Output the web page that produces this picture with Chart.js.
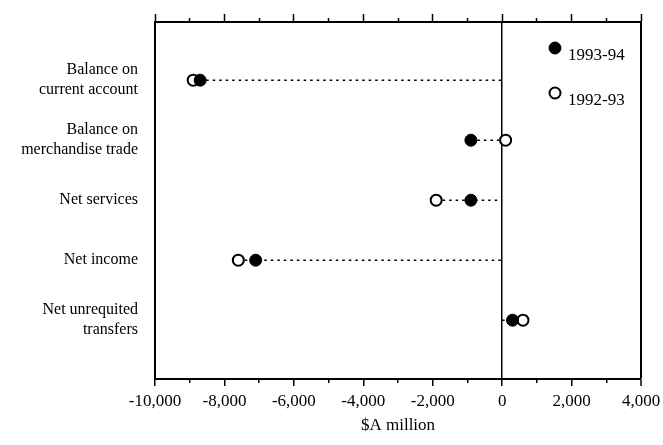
<!DOCTYPE html>
<html>
<head>
<meta charset="utf-8">
<script src="https://cdn.jsdelivr.net/npm/chart.js@4.4.1/dist/chart.umd.min.js"></script>
<style>
  html, body { margin: 0; padding: 0; background: #fff; }
</style>
</head>
<body>
<canvas id="myChart" width="663" height="445"></canvas>
<script>
// Datos ($A millones)
const categories = [
  ['Balance on', 'current account'],
  ['Balance on', 'merchandise trade'],
  ['Net services'],
  ['Net income'],
  ['Net unrequited', 'transfers']
];
const seriesLabels = ['1993-94', '1992-93'];
const values9394 = [-8700, -900, -900, -7100, 300];
const values9293 = [-8900, 100, -1900, -7600, 600];
const xTickValues = [-10000, -9000, -8000, -7000, -6000, -5000, -4000, -3000, -2000, -1000, 0, 1000, 2000, 3000, 4000];

const X_MIN = xTickValues[0];
const X_MAX = xTickValues[xTickValues.length - 1];
const isMajor = v => v % 2000 === 0;

Chart.defaults.font.family = '"Liberation Serif", "Times New Roman", serif';
Chart.defaults.color = '#000';

// Líneas punteadas: desde el punto más lejano hasta cero
const guideLines = categories.map((c, i) => {
  const vals = [values9394[i], values9293[i], 0];
  return {
    type: 'scatter',
    showLine: true,
    data: [{ x: Math.min(...vals), y: i }, { x: Math.max(...vals), y: i }],
    borderColor: '#000',
    borderWidth: 1.6,
    borderDash: [2.5, 4],
    pointRadius: 0,
    order: 2
  };
});

// Leyenda dibujada dentro del área del gráfico
const legendMarks = {
  id: 'legendMarks',
  afterDraw(chart) {
    const { ctx, chartArea } = chart;
    ctx.save();
    [0, 1].forEach(k => {
      const ds = chart.data.datasets[k];
      const cx = chartArea.right - 86;
      const cy = chartArea.top + 26 + k * 45;
      ctx.beginPath();
      ctx.arc(cx, cy, ds.pointRadius, 0, Math.PI * 2);
      ctx.fillStyle = ds.pointBackgroundColor;
      ctx.fill();
      ctx.lineWidth = ds.borderWidth;
      ctx.strokeStyle = ds.borderColor;
      ctx.stroke();
      ctx.fillStyle = '#000';
      ctx.font = '17px "Liberation Serif", serif';
      ctx.textBaseline = 'middle';
      ctx.textAlign = 'left';
      ctx.fillText(ds.label, cx + 13, cy + 8);
    });
    ctx.restore();
  }
};

const ctx = document.getElementById('myChart').getContext('2d');
const chart = new Chart(ctx, {
  type: 'scatter',
  data: {
    datasets: [
      {
        label: seriesLabels[0],
        data: values9394.map((v, i) => ({ x: v, y: i })),
        pointRadius: 6,
        pointBackgroundColor: '#000',
        borderColor: '#000',
        borderWidth: 1,
        order: 0
      },
      {
        label: seriesLabels[1],
        data: values9293.map((v, i) => ({ x: v, y: i })),
        pointRadius: 5.5,
        pointBackgroundColor: '#fff',
        borderColor: '#000',
        borderWidth: 2,
        order: 1
      },
      ...guideLines
    ]
  },
  options: {
    responsive: false,
    animation: false,
    layout: { padding: { top: 0, right: 4, bottom: 0, left: 0 } },
    plugins: { legend: { display: false }, tooltip: { enabled: false } },
    scales: {
      x: {
        type: 'linear',
        position: 'bottom',
        min: X_MIN,
        max: X_MAX,
        afterBuildTicks: s => { s.ticks = xTickValues.map(v => ({ value: v })); },
        afterFit: s => { s.height = 66; s.paddingRight = 22; },
        ticks: {
          autoSkip: false,
          maxRotation: 0,
          padding: 5,
          font: { size: 17 },
          callback: v => isMajor(v) ? v.toLocaleString('en-US') : ''
        },
        grid: {
          color: c => (c.tick && (c.tick.value === 0 || c.tick.value === X_MAX)) ? '#000' : 'rgba(0,0,0,0)',
          lineWidth: c => (c.tick && c.tick.value === X_MAX) ? 2 : 1.5,
          tickColor: '#000',
          tickWidth: 1.5,
          tickLength: 7,
          tickBorderDash: c => (c.tick && isMajor(c.tick.value)) ? [] : [3, 20]
        },
        border: { display: true, color: '#000', width: 2 },
        title: {
          display: true,
          text: '$A million',
          font: { size: 17 },
          padding: { top: 0, bottom: 9 }
        }
      },
      xTop: {
        type: 'linear',
        position: 'top',
        min: X_MIN,
        max: X_MAX,
        afterBuildTicks: s => { s.ticks = xTickValues.map(v => ({ value: v })); },
        afterFit: s => { s.height = 22; },
        ticks: { display: false },
        grid: {
          drawOnChartArea: false,
          tickColor: '#000',
          tickWidth: 1.5,
          tickLength: 8,
          tickBorderDash: c => (c.tick && isMajor(c.tick.value)) ? [] : [0, 4, 3, 50]
        },
        border: { display: true, color: '#000', width: 2 }
      },
      y: {
        type: 'linear',
        position: 'left',
        reverse: true,
        min: -0.97,
        max: 4.98,
        afterBuildTicks: s => { s.ticks = categories.map((c, i) => ({ value: i })); },
        afterFit: s => { s.width = 155; },
        ticks: {
          padding: 0,
          font: { size: 16, lineHeight: 1.25 },
          callback: v => categories[v]
        },
        // marcas invisibles: solo separan las etiquetas del eje
        grid: { drawOnChartArea: false, tickLength: 17, tickColor: 'rgba(0,0,0,0)' },
        border: { display: true, color: '#000', width: 2 }
      }
    }
  },
  plugins: [legendMarks]
});
</script>
</body>
</html>
